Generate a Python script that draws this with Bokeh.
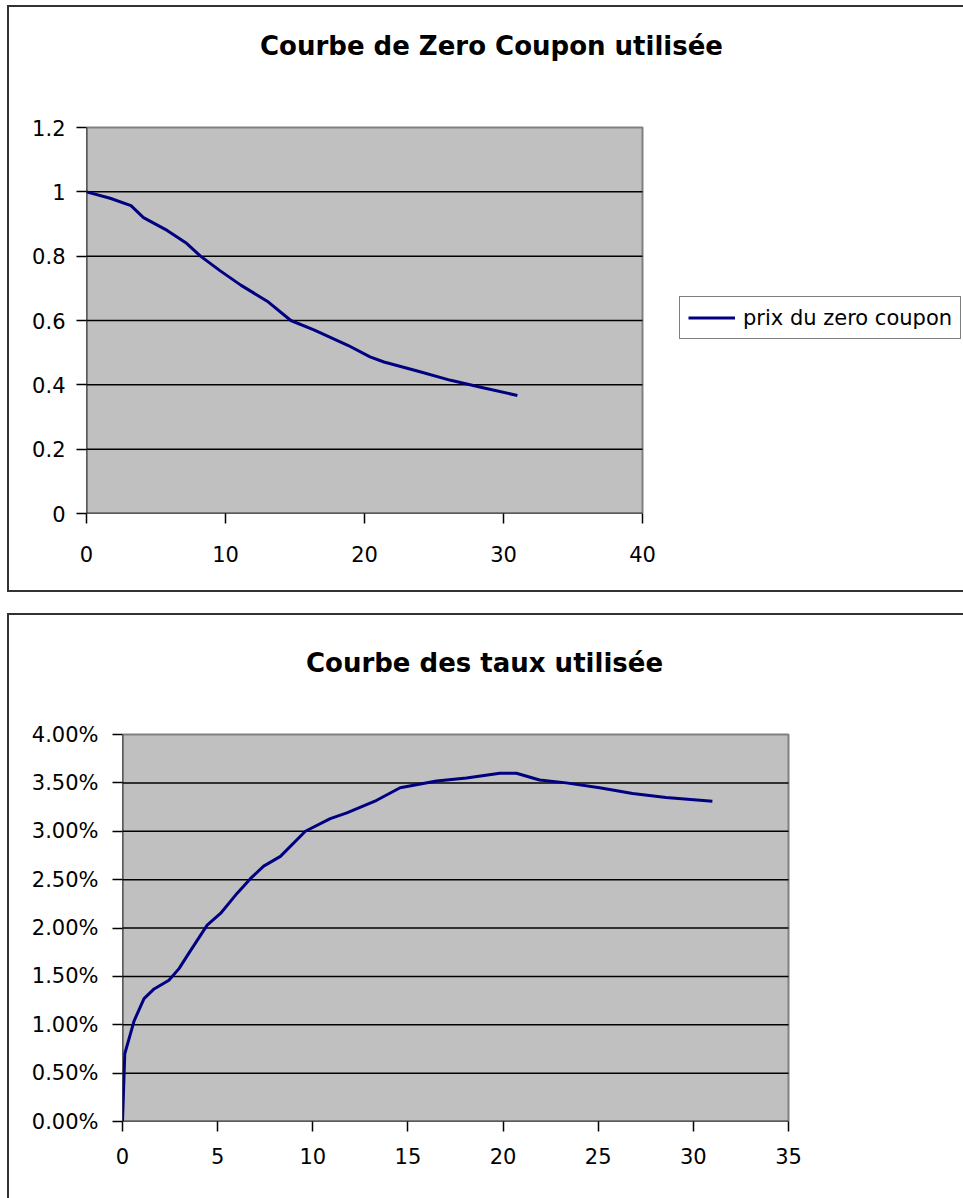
from bokeh.plotting import figure
from bokeh.models import (Range1d, FixedTicker, Legend, LegendItem, Label,
                          CustomJSTickFormatter, NumeralTickFormatter)
from bokeh.embed import file_html
from bokeh.resources import INLINE

# ---------------- data ----------------
# Courbe de Zero Coupon utilisée
maturites_zc = [0, 1.7, 3.2, 4.1, 5.8, 7.2, 8.2, 9.6, 11.1, 13.0, 14.7, 16.4,
                18.8, 20.4, 21.4, 23.8, 26.2, 28.6, 31]
prix_zc = [1.0, 0.98, 0.957, 0.92, 0.88, 0.84, 0.80, 0.755, 0.71, 0.66, 0.60,
           0.57, 0.523, 0.487, 0.471, 0.443, 0.414, 0.39, 0.367]

# Courbe des taux utilisée (en %)
maturites_taux = [0, 0.05, 0.12, 0.61, 1.13, 1.66, 2.44, 2.97, 3.49, 4.45,
                  5.15, 6.03, 6.72, 7.42, 8.30, 9.61, 10.92, 11.79, 13.36,
                  14.59, 16.51, 18.08, 19.83, 20.70, 21.92, 23.32, 25.07,
                  26.81, 28.56, 31]
taux_pct = [0, 0.29, 0.70, 1.04, 1.27, 1.37, 1.46, 1.58, 1.74, 2.03, 2.15,
            2.36, 2.51, 2.64, 2.74, 3.00, 3.13, 3.19, 3.32, 3.45, 3.52, 3.55,
            3.60, 3.60, 3.53, 3.50, 3.45, 3.39, 3.35, 3.31]

x_ticks_zc = [0, 10, 20, 30, 40]
y_ticks_zc = [0, 0.2, 0.4, 0.6, 0.8, 1.0, 1.2]
x_ticks_taux = [0, 5, 10, 15, 20, 25, 30, 35]
y_ticks_taux = [0, 0.005, 0.01, 0.015, 0.02, 0.025, 0.03, 0.035, 0.04]

titre_zc = "Courbe de Zero Coupon utilisée"
titre_taux = "Courbe des taux utilisée"
serie_zc = "prix du zero coupon"

FONT = "DejaVu Sans"
NAVY = "#000080"
W = 956


def chart(height, left, bottom, plot_w, plot_h, xt, yt, x_standoff,
          y_standoff, margin, shadow):
    """Figure whose frame covers the whole chart area; the grey plot area
    spans the tick range and occupies plot_w x plot_h pixels."""
    frame_w = W - left
    frame_h = height - bottom
    x_end = xt[-1] * frame_w / plot_w
    y_end = yt[-1] * frame_h / plot_h
    p = figure(width=W, height=height, output_backend="svg",
               toolbar_location=None,
               x_range=Range1d(0, x_end), y_range=Range1d(0, y_end),
               min_border_left=left, min_border_right=0, min_border_top=0,
               min_border_bottom=bottom, margin=margin)
    p.styles = {"box-shadow": shadow}
    p.background_fill_alpha = 0
    p.border_fill_alpha = 0
    p.outline_line_color = None
    p.grid.visible = False
    x0, x1, y0, y1 = xt[0], xt[-1], yt[0], yt[-1]
    # plot area
    p.quad(left=[x0], right=[x1], bottom=[y0], top=[y1],
           fill_color="#C0C0C0", line_color="#808080", line_width=2)
    # horizontal grid lines
    gy = yt[1:-1]
    p.segment(x0=[x0] * len(gy), x1=[x1] * len(gy), y0=gy, y1=gy,
              line_color="black", line_width=1.5)
    # axis lines
    p.segment(x0=[x0, x0], x1=[x0, x1], y0=[y0, y0], y1=[y1, y0],
              line_color="black", line_width=1.5)
    p.xaxis.ticker = FixedTicker(ticks=xt)
    p.yaxis.ticker = FixedTicker(ticks=yt)
    for ax in (p.xaxis[0], p.yaxis[0]):
        ax.axis_line_color = None
        ax.major_tick_line_color = "black"
        ax.major_tick_line_width = 1.5
        ax.major_tick_in = 0
        ax.major_tick_out = 10
        ax.minor_tick_line_color = None
        ax.major_label_text_font = FONT
        ax.major_label_text_font_size = "21px"
        ax.major_label_text_color = "black"
    p.xaxis[0].major_label_standoff = x_standoff
    p.yaxis[0].major_label_standoff = y_standoff
    sx = plot_w / (x1 - x0)
    sy = plot_h / (y1 - y0)

    def to_data(hx, hy):
        # host pixel (from host top-left) -> data coordinates
        return (hx - left) / sx, (frame_h - hy) / sy

    return p, to_data


def titre(to_data, text, hx, hy):
    x, y = to_data(hx, hy)
    return Label(x=x, y=y, text=text, text_align="center",
                 text_baseline="middle", text_font=FONT,
                 text_font_size="26px", text_font_style="bold",
                 text_color="black")


# ---------------- top chart (host at page x=7, y=5) ----------------
p1, data1 = chart(587, 79, 79, 556, 386, x_ticks_zc, y_ticks_zc, 22, 11,
                  (5, 0, 0, 7),
                  "inset 2px 2px 0 #333, inset 0 -2px 0 #333")
p1.yaxis[0].formatter = CustomJSTickFormatter(code="return String(tick)")
r1 = p1.line(maturites_zc, prix_zc, line_color=NAVY, line_width=3)
p1.add_layout(titre(data1, titre_zc, 484, 40))

legend = Legend(items=[LegendItem(label=serie_zc, renderers=[r1])],
                location=(593, 174), margin=0, padding=8, spacing=0,
                glyph_width=47, glyph_height=25, label_height=25,
                label_standoff=8, label_text_color="black",
                label_text_font=FONT, label_text_font_size="21px",
                border_line_color="black", border_line_width=1.5,
                background_fill_color="white", background_fill_alpha=1)
p1.add_layout(legend, "center")

# ---------------- bottom chart (host at page x=7, y=613) ----------------
p2, data2 = chart(585, 115, 77, 666, 387, x_ticks_taux, y_ticks_taux, 16, 14,
                  (21, 0, 0, 7), "inset 2px 2px 0 #333")
p2.yaxis[0].formatter = NumeralTickFormatter(format="0.00%")
p2.line(maturites_taux, [v / 100 for v in taux_pct], line_color=NAVY,
        line_width=3)
p2.add_layout(titre(data2, titre_taux, 477, 49))

open("out.html", "w").write(file_html([p1, p2], INLINE))
